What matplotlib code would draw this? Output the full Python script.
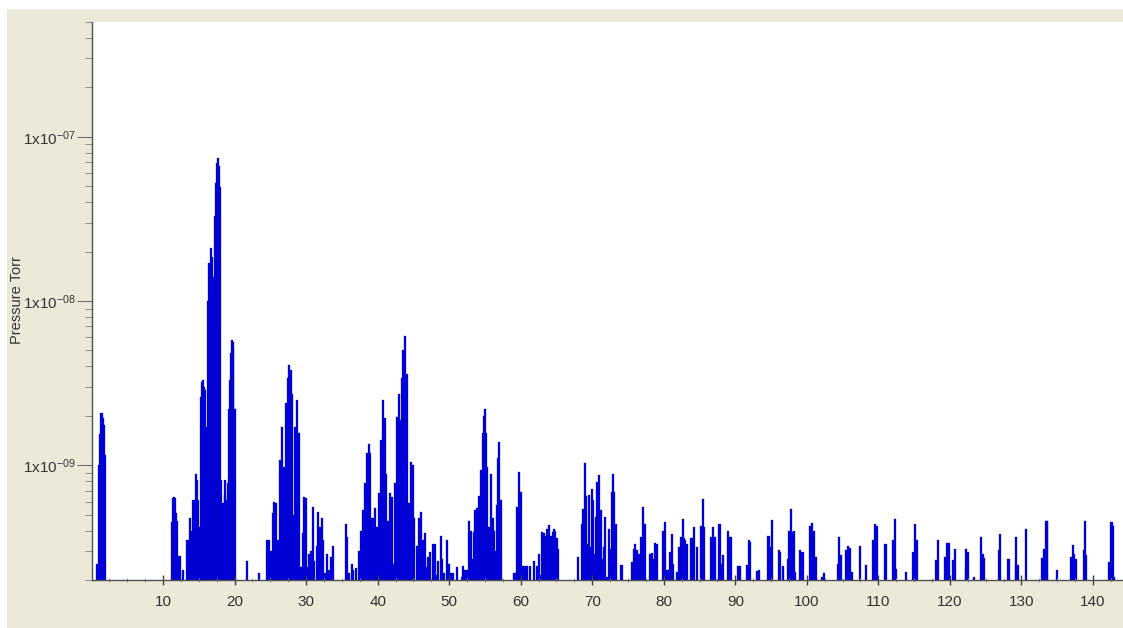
import matplotlib
matplotlib.use('Agg')
import matplotlib.pyplot as plt
from matplotlib.patches import Rectangle
from matplotlib.ticker import FixedLocator, FixedFormatter, LogLocator, NullFormatter
import numpy as np

plt.rcParams['font.family'] = ['Liberation Sans', 'DejaVu Sans']
plt.rcParams['mathtext.default'] = 'regular'

# mass 0 - 24 amu
mass_a = [0.72, 1.1, 1.25, 1.4, 1.55, 1.7, 1.85,
          11.2, 11.35, 11.5, 11.65, 11.8, 12.0, 12.15, 12.37, 12.83,
          13.4, 13.58, 13.77, 14.0, 14.23, 14.42, 14.61, 14.8, 14.93, 15.07,
          15.26, 15.4, 15.54, 15.73, 15.91, 16.1, 16.28, 16.47, 16.66, 16.84,
          16.94, 17.12, 17.26, 17.4, 17.5, 17.68, 17.87, 18.0, 18.1, 18.24,
          18.43, 18.61, 18.7, 18.89, 19.03, 19.17, 19.36, 19.5, 19.6, 19.73,
          19.82, 19.96, 20.1, 21.7, 23.4]
torr_a = [2.5e-10, 1.0e-9, 1.55e-9, 2.07e-9, 1.95e-9, 1.75e-9, 1.15e-9,
          4.5e-10, 6.3e-10, 6.4e-10, 6.3e-10, 5.1e-10, 4.6e-10, 2.8e-10, 2.8e-10, 2.3e-10,
          3.5e-10, 3.5e-10, 4.75e-10, 4.0e-10, 6.1e-10, 6.1e-10, 8.9e-10, 8.1e-10, 6.1e-10, 4.2e-10,
          2.6e-9, 3.2e-9, 3.3e-9, 3.0e-9, 2.87e-9, 1.7e-9, 1.0e-8, 1.7e-8, 2.1e-8, 1.85e-8,
          1.4e-8, 6.6e-9, 3.3e-8, 5.2e-8, 6.9e-8, 7.45e-8, 6.6e-8, 4.95e-8, 8.1e-10, 4.2e-10,
          5.9e-10, 6.6e-10, 8.1e-10, 6.1e-10, 7.8e-10, 2.2e-9, 3.3e-9, 4.8e-9, 5.8e-9, 5.6e-9,
          5.2e-9, 2.2e-9, 2.2e-9, 2.6e-10, 2.2e-10]

# mass 24 - 47 amu
mass_b = [24.58, 24.8, 25.05, 25.33, 25.56, 25.79, 26.07, 26.35, 26.67, 26.91,
          27.19, 27.42, 27.61, 27.84, 28.03, 28.21, 28.45, 28.77, 29.05, 29.24,
          29.52, 29.75, 29.98, 30.17, 30.45, 30.68, 30.91, 31.15, 31.47, 31.71,
          31.94, 32.17, 32.41, 32.64, 32.97, 33.24, 33.48, 33.8,
          35.53, 35.76, 35.99, 36.37, 36.6, 36.97, 37.35, 37.67, 37.99, 38.27,
          38.55, 38.74, 38.93, 39.12, 39.4, 39.67, 39.95, 40.23, 40.51, 40.79,
          40.98, 41.17, 41.45, 41.72, 42.0, 42.19, 42.47, 42.66, 42.94, 43.12,
          43.4, 43.59, 43.82, 44.06, 44.34, 44.62, 44.9, 45.13, 45.46, 45.74,
          46.02, 46.29, 46.57, 46.85, 47.12]
torr_b = [3.5e-10, 3.5e-10, 3.0e-10, 5.1e-10, 5.95e-10, 5.9e-10, 3.5e-10, 1.07e-9, 1.7e-9, 9.7e-10,
          2.4e-9, 3.4e-9, 4.1e-9, 3.8e-9, 2.7e-9, 5.0e-10, 1.7e-9, 2.5e-9, 1.57e-9, 2.4e-10,
          3.85e-10, 6.4e-10, 6.3e-10, 2.4e-10, 2.9e-10, 3.0e-10, 5.55e-10, 2.6e-10, 3.2e-10, 5.2e-10,
          4.2e-10, 4.8e-10, 3.5e-10, 2.2e-10, 2.9e-10, 2.3e-10, 2.75e-10, 3.2e-10,
          4.4e-10, 3.65e-10, 2.2e-10, 2.5e-10, 2.3e-10, 2.35e-10, 3.0e-10, 4.0e-10, 5.3e-10, 7.8e-10,
          1.18e-9, 1.34e-9, 1.18e-9, 4.8e-10, 4.8e-10, 5.5e-10, 4.2e-10, 6.75e-10, 1.42e-9, 2.5e-9,
          1.93e-9, 8.9e-10, 4.6e-10, 6.75e-10, 6.4e-10, 2.5e-10, 7.8e-10, 1.96e-9, 2.7e-9, 1.88e-9,
          3.4e-9, 5.0e-9, 6.1e-9, 3.6e-9, 5.9e-10, 1.04e-9, 1.0e-9, 4.8e-10, 3.2e-10, 4.8e-10,
          5.2e-10, 3.5e-10, 3.85e-10, 2.4e-10, 2.75e-10]

# mass 47 - 66 amu
mass_c = [47.32, 47.69, 47.97, 48.25, 48.48, 48.81, 49.04, 49.27, 49.65, 49.93,
          50.21, 50.48, 51.05, 51.74, 51.97, 52.25, 52.44, 52.81, 53.0, 53.19,
          53.47, 53.65, 53.93, 54.12, 54.3, 54.49, 54.68, 54.86, 55.0, 55.14,
          55.33, 55.51, 55.7, 55.89, 56.07, 56.26, 56.45, 56.63, 56.82, 57.01, 57.19,
          59.06, 59.3, 59.53, 59.81, 60.08, 60.27, 60.6, 60.92, 61.3, 61.86,
          62.23, 62.51, 62.79, 62.97, 63.25, 63.44, 63.63, 63.81, 64.0, 64.28,
          64.46, 64.65, 64.84, 65.02, 65.21]
torr_c = [2.95e-10, 3.3e-10, 3.3e-10, 2.15e-10, 2.6e-10, 3.7e-10, 2.7e-10, 2.2e-10, 3.5e-10, 2.5e-10,
          2.2e-10, 2.2e-10, 2.4e-10, 2.1e-10, 2.45e-10, 2.3e-10, 2.3e-10, 4.6e-10, 4.0e-10, 2.7e-10,
          3.9e-10, 5.3e-10, 5.5e-10, 6.5e-10, 2.4e-10, 9.3e-10, 1.57e-9, 2.0e-9, 2.2e-9, 1.57e-9,
          9.7e-10, 4.2e-10, 4.2e-10, 8.9e-10, 4.8e-10, 4.0e-10, 3.0e-10, 5.7e-10, 1.1e-9, 1.38e-9, 6.1e-10,
          2.2e-10, 2.2e-10, 5.55e-10, 9.1e-10, 6.9e-10, 2.42e-10, 2.45e-10, 2.45e-10, 2.45e-10, 2.6e-10,
          2.45e-10, 2.9e-10, 2.15e-10, 3.9e-10, 3.85e-10, 3.7e-10, 4.1e-10, 3.85e-10, 4.3e-10, 3.7e-10,
          3.9e-10, 4.1e-10, 4.0e-10, 3.6e-10, 3.1e-10]

# mass 66 - 116 amu
mass_d = [68.05, 68.52, 68.75, 68.94, 69.12, 69.31, 69.59, 69.77, 69.96, 70.15,
          70.33, 70.52, 70.71, 70.89, 70.98, 71.17, 71.36, 71.64, 71.82, 72.1,
          72.38, 72.57, 72.75, 72.89, 73.08, 73.26, 74.1,
          75.6, 75.83, 76.01, 76.2, 76.39, 76.57, 76.8, 77.05, 77.23, 77.42,
          78.08, 78.3, 78.5, 78.8, 79.1, 79.9, 80.2, 80.4, 80.6, 80.86,
          81.14, 81.33, 81.88, 82.17, 82.44, 82.63, 82.82, 83.0, 83.19, 83.75,
          84.03, 84.26, 84.6, 85.15, 85.43, 85.6, 86.6, 86.8, 86.9, 87.1,
          87.8, 88.0, 88.3, 89.0, 89.25, 89.4, 90.4, 90.6, 91.7, 91.9,
          92.1, 93.0, 93.3, 94.65, 94.8, 95.1, 96.1, 96.3, 96.7, 97.4,
          97.55, 97.8, 98.0, 98.2, 98.4, 99.1, 99.4, 100.5, 100.7, 101.0,
          101.3, 102.1, 102.4, 104.3, 104.5, 104.7, 105.45, 105.8, 106.0, 106.3,
          107.4, 108.3, 109.2, 109.5, 109.85, 111.0, 112.1, 112.27, 112.46, 113.9,
          114.9, 115.1, 115.4]
torr_d = [2.78e-10, 4.4e-10, 5.45e-10, 1.03e-9, 6.47e-10, 3.33e-10, 6.56e-10, 3.17e-10, 7.2e-10, 6.1e-10,
          2.9e-10, 4.83e-10, 7.9e-10, 5.3e-10, 8.7e-10, 5.3e-10, 2.7e-10, 3.17e-10, 4.83e-10, 2.1e-10,
          4.1e-10, 3.1e-10, 6.88e-10, 8.9e-10, 6.88e-10, 4.4e-10, 2.46e-10,
          2.57e-10, 3.1e-10, 3.33e-10, 3.03e-10, 2.5e-10, 2.9e-10, 3.65e-10, 5.56e-10, 3.65e-10, 4.4e-10,
          2.9e-10, 2.92e-10, 2.7e-10, 3.37e-10, 3.33e-10, 4.0e-10, 4.5e-10, 2.29e-10, 2.29e-10, 2.95e-10,
          3.83e-10, 2.5e-10, 2.24e-10, 3.17e-10, 3.63e-10, 4.73e-10, 3.58e-10, 3.49e-10, 3.33e-10, 3.58e-10,
          3.58e-10, 4.2e-10, 3.17e-10, 4.24e-10, 6.2e-10, 4.2e-10, 3.65e-10, 2.16e-10, 4.2e-10, 3.65e-10,
          4.4e-10, 2.5e-10, 2.82e-10, 4.0e-10, 3.65e-10, 3.65e-10, 2.44e-10, 2.44e-10, 2.48e-10, 3.49e-10,
          3.4e-10, 2.27e-10, 2.29e-10, 3.69e-10, 3.17e-10, 4.67e-10, 3.06e-10, 2.95e-10, 2.44e-10, 2.7e-10,
          3.96e-10, 5.42e-10, 3.92e-10, 3.96e-10, 2.23e-10, 3.03e-10, 2.95e-10, 4.24e-10, 4.46e-10, 3.97e-10,
          2.76e-10, 2.1e-10, 2.2e-10, 2.5e-10, 3.65e-10, 2.82e-10, 3.03e-10, 3.2e-10, 3.14e-10, 2.23e-10,
          3.2e-10, 2.48e-10, 3.49e-10, 4.37e-10, 4.24e-10, 3.3e-10, 3.49e-10, 4.73e-10, 2.34e-10, 2.24e-10,
          2.95e-10, 4.4e-10, 3.49e-10]

# mass 116 - 144 amu
mass_e = [118.0, 118.3, 119.3, 119.6, 119.8, 120.5, 120.7, 122.2, 122.3, 122.5,
          123.4, 124.4, 124.6, 124.8, 126.9, 127.0, 128.2, 129.2, 129.3, 129.5,
          130.6, 132.9, 133.2, 133.5, 133.6, 135.0, 137.0, 137.2, 137.4, 137.6,
          138.7, 138.9, 139.0, 142.2, 142.4, 142.6, 142.8, 142.9]
torr_e = [2.63e-10, 3.5e-10, 2.76e-10, 3.36e-10, 3.36e-10, 2.63e-10, 3.08e-10, 2.34e-10, 3.08e-10, 2.95e-10,
          2.1e-10, 3.65e-10, 2.9e-10, 2.74e-10, 3.03e-10, 3.8e-10, 2.7e-10, 2.5e-10, 3.63e-10, 2.46e-10,
          4.1e-10, 2.74e-10, 3.1e-10, 4.57e-10, 4.57e-10, 2.29e-10, 2.76e-10, 3.25e-10, 2.9e-10, 2.7e-10,
          3.06e-10, 4.57e-10, 2.82e-10, 2.57e-10, 2.49e-10, 4.5e-10, 4.24e-10, 2.1e-10]

y_ticks = [1e-9, 1e-8, 1e-7]
y_labels = [r'1x10$^{-09}$', r'1x10$^{-08}$', r'1x10$^{-07}$']
x_ticks = list(range(10, 150, 10))

mass = np.array(mass_a + mass_b + mass_c + mass_d + mass_e)
torr = np.array(torr_a + torr_b + torr_c + torr_d + torr_e)
floor = 1e-10

fig = plt.figure(figsize=(11.23, 6.28), dpi=100, facecolor='white')
fig.patches.append(Rectangle((7 / 1123, 0), 1, 1 - 9 / 628, transform=fig.transFigure,
                             facecolor='#ECE9D8', edgecolor='none', zorder=-10))
ax = fig.add_axes([91.5 / 1123, 48 / 628, (1123 - 91.5) / 1123, 558 / 628])
ax.set_facecolor('white')

ax.bar(mass, torr - floor, bottom=floor, width=0.3, color='#0000EC',
       edgecolor='#000088', linewidth=0.2)

ax.set_yscale('log')
ax.set_ylim(2.0e-10, 5.0e-7)
ax.set_xlim(0, 144.2)

ax.yaxis.set_major_locator(FixedLocator(y_ticks))
ax.yaxis.set_major_formatter(FixedFormatter(y_labels))
ax.yaxis.set_minor_locator(LogLocator(base=10, subs=np.arange(2, 10)))
ax.yaxis.set_minor_formatter(NullFormatter())
ax.set_xticks(x_ticks)
ax.set_xticks(np.arange(2.5, 144, 2.5), minor=True)

for s in ['top', 'right']:
    ax.spines[s].set_visible(False)
for s in ['left', 'bottom']:
    ax.spines[s].set_color('#505050')
    ax.spines[s].set_linewidth(1.0)

ax.tick_params(axis='y', which='major', direction='out', length=10.5, width=0.8,
               color='#707070', labelsize=11, pad=1, labelcolor='#333333')
ax.tick_params(axis='y', which='minor', direction='out', length=5, width=0.7, color='#909090')
ax.tick_params(axis='x', which='major', direction='inout', length=7, width=1.0,
               color='#404040', labelsize=11, pad=7, labelcolor='#333333')
ax.tick_params(axis='x', which='minor', direction='inout', length=3, width=0.7, color='#909090')

fig.text(17 / 1123, 1 - 300 / 628, 'Pressure Torr', rotation=90, ha='center', va='center',
         fontsize=10.5, color='#333333')

fig.savefig('out.png', dpi=100, facecolor=fig.get_facecolor())
